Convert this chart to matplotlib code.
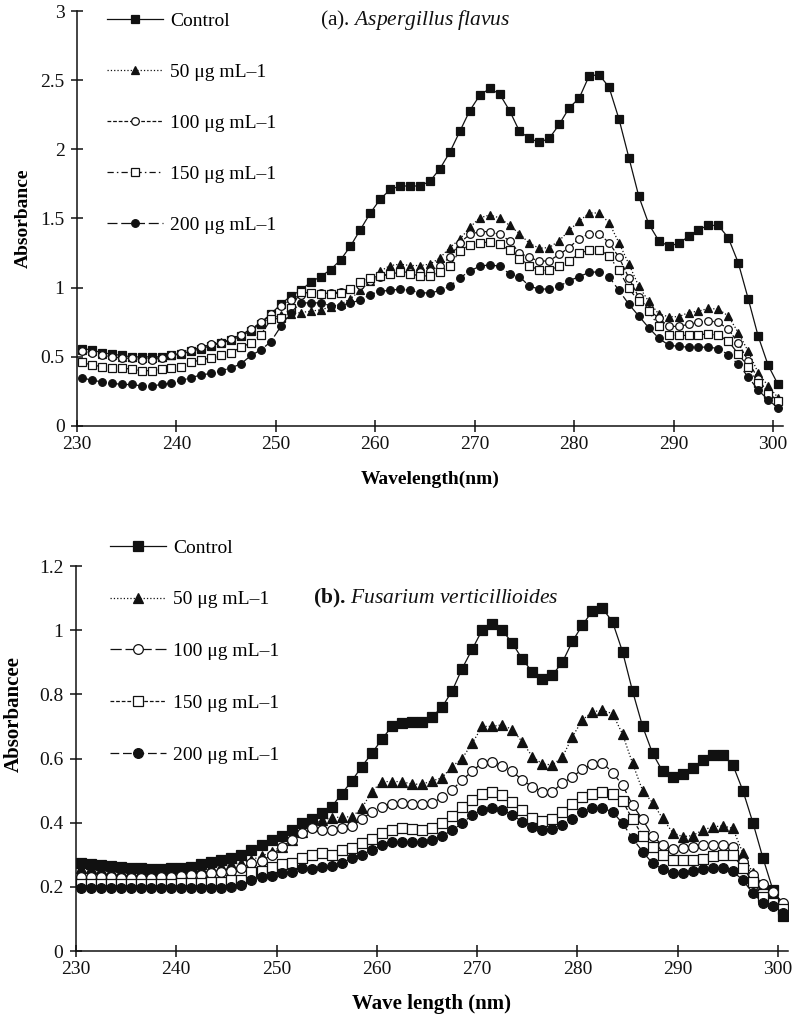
import matplotlib.pyplot as plt
import numpy as np
from matplotlib.ticker import FormatStrFormatter

plt.rcParams['font.family'] = ['Liberation Serif', 'DejaVu Serif']
plt.rcParams['mathtext.fontset'] = 'custom'
plt.rcParams['mathtext.rm'] = 'Liberation Serif'
plt.rcParams['mathtext.it'] = 'Liberation Serif:italic'
plt.rcParams['mathtext.bf'] = 'Liberation Serif:bold'

# wavelengths of the measured points (nm)
wavelength = np.arange(230.5, 301.0, 1.0)

labels = ['Control', '50 μg mL–1', '100 μg mL–1', '150 μg mL–1', '200 μg mL–1']

# (a) Aspergillus flavus
a_control = [0.56, 0.55, 0.53, 0.52, 0.51, 0.50, 0.50, 0.50, 0.50, 0.51,
             0.52, 0.54, 0.56, 0.58, 0.60, 0.62, 0.65, 0.69, 0.74, 0.81,
             0.88, 0.94, 0.98, 1.04, 1.08, 1.13, 1.20, 1.30, 1.42, 1.54,
             1.64, 1.71, 1.735, 1.735, 1.735, 1.77, 1.86, 1.98, 2.13, 2.28,
             2.39, 2.44, 2.40, 2.28, 2.13, 2.08, 2.05, 2.08, 2.18, 2.30,
             2.37, 2.53, 2.54, 2.45, 2.22, 1.94, 1.66, 1.46, 1.34, 1.30,
             1.32, 1.37, 1.42, 1.45, 1.45, 1.36, 1.18, 0.92, 0.65, 0.44,
             0.30]
a_50 = [0.55, 0.54, 0.52, 0.51, 0.50, 0.50, 0.49, 0.49, 0.50, 0.51,
        0.53, 0.55, 0.57, 0.59, 0.61, 0.63, 0.66, 0.70, 0.74, 0.78,
        0.80, 0.81, 0.82, 0.83, 0.84, 0.86, 0.88, 0.92, 0.98, 1.05,
        1.12, 1.16, 1.17, 1.16, 1.16, 1.17, 1.215, 1.29, 1.35, 1.435,
        1.505, 1.525, 1.505, 1.45, 1.39, 1.32, 1.285, 1.29, 1.34, 1.415,
        1.48, 1.54, 1.54, 1.47, 1.325, 1.17, 1.01, 0.90, 0.81, 0.79,
        0.79, 0.82, 0.83, 0.85, 0.845, 0.795, 0.675, 0.54, 0.385, 0.29,
        0.205]
a_100 = [0.54, 0.53, 0.51, 0.50, 0.49, 0.49, 0.48, 0.48, 0.49, 0.51,
         0.53, 0.55, 0.57, 0.59, 0.60, 0.63, 0.66, 0.70, 0.75, 0.81,
         0.87, 0.91, 0.95, 0.96, 0.96, 0.96, 0.97, 0.99, 1.02, 1.05,
         1.08, 1.10, 1.11, 1.115, 1.11, 1.12, 1.16, 1.22, 1.325, 1.385,
         1.405, 1.405, 1.385, 1.34, 1.25, 1.22, 1.19, 1.195, 1.24, 1.29,
         1.355, 1.39, 1.39, 1.325, 1.22, 1.07, 0.93, 0.84, 0.78, 0.72,
         0.72, 0.735, 0.75, 0.76, 0.75, 0.70, 0.60, 0.47, 0.34, 0.24,
         0.18]
a_150 = [0.46, 0.44, 0.43, 0.42, 0.42, 0.41, 0.40, 0.40, 0.41, 0.42,
         0.43, 0.46, 0.48, 0.49, 0.51, 0.53, 0.57, 0.60, 0.66, 0.77,
         0.78, 0.85, 0.97, 0.96, 0.955, 0.955, 0.96, 0.99, 1.04, 1.07,
         1.085, 1.10, 1.11, 1.10, 1.085, 1.085, 1.115, 1.16, 1.265, 1.31,
         1.325, 1.33, 1.315, 1.27, 1.21, 1.16, 1.125, 1.125, 1.16, 1.19,
         1.25, 1.27, 1.275, 1.23, 1.125, 0.995, 0.90, 0.83, 0.72, 0.66,
         0.655, 0.655, 0.66, 0.665, 0.655, 0.615, 0.52, 0.43, 0.31, 0.23,
         0.18]
a_200 = [0.35, 0.33, 0.32, 0.31, 0.30, 0.30, 0.29, 0.29, 0.30, 0.31,
         0.33, 0.35, 0.37, 0.38, 0.40, 0.42, 0.45, 0.51, 0.55, 0.61,
         0.72, 0.82, 0.89, 0.89, 0.89, 0.87, 0.87, 0.89, 0.91, 0.95,
         0.975, 0.98, 0.99, 0.98, 0.965, 0.96, 0.98, 1.01, 1.07, 1.12,
         1.155, 1.165, 1.155, 1.10, 1.08, 1.01, 0.99, 0.99, 1.01, 1.05,
         1.08, 1.11, 1.115, 1.08, 0.98, 0.88, 0.795, 0.71, 0.635, 0.585,
         0.575, 0.57, 0.57, 0.57, 0.56, 0.515, 0.445, 0.355, 0.26, 0.19,
         0.13]

# (b) Fusarium verticillioides
b_control = [0.275, 0.27, 0.268, 0.265, 0.262, 0.26, 0.258, 0.257, 0.257, 0.258,
             0.26, 0.263, 0.27, 0.276, 0.283, 0.29, 0.30, 0.315, 0.33, 0.345,
             0.36, 0.377, 0.40, 0.41, 0.43, 0.45, 0.49, 0.53, 0.575, 0.616,
             0.66, 0.70, 0.71, 0.715, 0.715, 0.73, 0.76, 0.81, 0.88, 0.94,
             1.00, 1.02, 1.00, 0.96, 0.91, 0.87, 0.847, 0.86, 0.90, 0.965,
             1.016, 1.06, 1.068, 1.026, 0.933, 0.81, 0.70, 0.616, 0.56, 0.543,
             0.553, 0.57, 0.595, 0.61, 0.61, 0.58, 0.50, 0.40, 0.29, 0.19,
             0.11]
b_50 = [0.26, 0.258, 0.255, 0.253, 0.25, 0.25, 0.248, 0.248, 0.248, 0.25,
        0.252, 0.255, 0.258, 0.262, 0.266, 0.27, 0.275, 0.285, 0.295, 0.31,
        0.325, 0.346, 0.372, 0.39, 0.408, 0.415, 0.418, 0.418, 0.445, 0.497,
        0.528, 0.528, 0.528, 0.52, 0.52, 0.53, 0.54, 0.575, 0.60, 0.647,
        0.70, 0.70, 0.705, 0.69, 0.652, 0.606, 0.583, 0.58, 0.604, 0.668,
        0.72, 0.746, 0.75, 0.74, 0.676, 0.585, 0.50, 0.462, 0.413, 0.369,
        0.356, 0.36, 0.377, 0.387, 0.39, 0.382, 0.305, 0.242, 0.21, 0.185,
        0.15]
b_100 = [0.232, 0.232, 0.23, 0.23, 0.228, 0.228, 0.228, 0.228, 0.23, 0.232,
         0.234, 0.236, 0.238, 0.242, 0.245, 0.25, 0.258, 0.275, 0.28, 0.30,
         0.323, 0.346, 0.367, 0.382, 0.378, 0.378, 0.383, 0.39, 0.41, 0.434,
         0.45, 0.458, 0.46, 0.458, 0.457, 0.46, 0.48, 0.502, 0.533, 0.56,
         0.587, 0.59, 0.578, 0.56, 0.533, 0.512, 0.497, 0.497, 0.523, 0.543,
         0.566, 0.583, 0.587, 0.556, 0.517, 0.455, 0.41, 0.358, 0.33, 0.317,
         0.32, 0.325, 0.33, 0.33, 0.33, 0.325, 0.278, 0.236, 0.21, 0.185,
         0.15]
b_150 = [0.21, 0.21, 0.21, 0.21, 0.21, 0.21, 0.21, 0.21, 0.21, 0.21,
         0.212, 0.212, 0.213, 0.214, 0.215, 0.22, 0.222, 0.247, 0.25, 0.263,
         0.27, 0.275, 0.289, 0.30, 0.306, 0.30, 0.315, 0.32, 0.336, 0.35,
         0.369, 0.377, 0.382, 0.38, 0.376, 0.382, 0.398, 0.42, 0.45, 0.47,
         0.49, 0.495, 0.485, 0.465, 0.44, 0.413, 0.405, 0.41, 0.434, 0.458,
         0.479, 0.49, 0.495, 0.49, 0.468, 0.41, 0.36, 0.325, 0.30, 0.284,
         0.283, 0.283, 0.287, 0.296, 0.30, 0.30, 0.258, 0.216, 0.167, 0.15,
         0.13]
b_200 = [0.195, 0.195, 0.195, 0.195, 0.195, 0.195, 0.195, 0.195, 0.195, 0.195,
         0.195, 0.195, 0.195, 0.195, 0.196, 0.20, 0.205, 0.22, 0.23, 0.235,
         0.242, 0.247, 0.258, 0.255, 0.263, 0.265, 0.275, 0.289, 0.30, 0.315,
         0.33, 0.34, 0.34, 0.34, 0.34, 0.345, 0.358, 0.377, 0.398, 0.424,
         0.44, 0.445, 0.44, 0.424, 0.403, 0.385, 0.377, 0.38, 0.393, 0.41,
         0.434, 0.445, 0.445, 0.434, 0.398, 0.351, 0.31, 0.273, 0.255, 0.244,
         0.244, 0.25, 0.255, 0.258, 0.258, 0.248, 0.221, 0.18, 0.15, 0.14,
         0.12]

INK = '#111111'
FS = 14

# (marker, filled, linestyle) per series
styles_a = [('s', True, '-'), ('^', True, ':'), ('o', False, (0, (3, 1.5))),
            ('s', False, (0, (5, 2.5, 1.2, 2.5))), ('o', True, (0, (8, 3)))]
styles_b = [('s', True, '-'), ('^', True, ':'), ('o', False, (0, (9, 3))),
            ('s', False, (0, (3, 1.5))), ('o', True, (0, (7, 3)))]


def draw_panel(ax, series, styles, ms, ylim, yticks, xlabel, ylabel, lab_fs, xpad):
    for y, lab, (mk, filled, ls) in zip(series, labels, styles):
        ax.plot(wavelength, y, linestyle=ls, color=INK, lw=0.9,
                marker=mk, ms=ms, mec=INK, mew=0.9,
                mfc=INK if filled else 'white', label=lab)
    ax.set_xlim(230, 301)
    ax.set_ylim(*ylim)
    ax.set_xticks(range(230, 301, 10))
    ax.set_yticks(yticks)
    ax.yaxis.set_major_formatter(FormatStrFormatter('%g'))
    for s in ['top', 'right']:
        ax.spines[s].set_visible(False)
    for s in ['left', 'bottom']:
        ax.spines[s].set_linewidth(1.1)
        ax.spines[s].set_color(INK)
    ax.tick_params(direction='inout', length=8, width=1.1, labelsize=FS,
                   colors=INK, pad=3)
    ax.tick_params(axis='y', pad=5)
    ax.set_xlabel(xlabel, fontsize=lab_fs, fontweight='bold', labelpad=xpad)
    ax.set_ylabel(ylabel, fontsize=lab_fs, fontweight='bold', labelpad=6)


fig = plt.figure(figsize=(8, 10.21), dpi=100)
W, H = 800, 1021

ax1 = fig.add_axes([77 / W, 1 - 426 / H, (783 - 77) / W, (426 - 11) / H])
draw_panel(ax1, [a_control, a_50, a_100, a_150, a_200], styles_a, 5.5,
           (0, 3), np.arange(0, 3.01, 0.5), 'Wavelength(nm)', 'Absorbance', 14, 13)
ax1.legend(loc='upper left', bbox_to_anchor=(107 / W, 1 - 12 / H),
           bbox_transform=fig.transFigure, frameon=False, fontsize=FS,
           handlelength=2.9, handletextpad=0.36, labelspacing=1.72,
           borderpad=0, borderaxespad=0, numpoints=1)
fig.text(320 / W, 1 - 20 / H, r'(a). $\mathit{Aspergillus\ flavus}$',
         fontsize=15.5, va='center', ha='left', color=INK)

ax2 = fig.add_axes([76 / W, 1 - 951 / H, (788 - 76) / W, (951 - 566) / H])
draw_panel(ax2, [b_control, b_50, b_100, b_150, b_200], styles_b, 7,
           (0, 1.2), np.arange(0, 1.21, 0.2), 'Wave length (nm)', 'Absorbancee', 15, 12)
ax2.yaxis.set_label_coords(-0.073, 0.615)
ax2.legend(loc='upper left', bbox_to_anchor=(110 / W, 1 - 539 / H),
           bbox_transform=fig.transFigure, frameon=False, fontsize=FS,
           handlelength=2.9, handletextpad=0.36, labelspacing=1.76,
           borderpad=0, borderaxespad=0, numpoints=1)
fig.text(313 / W, 1 - 598 / H, r'$\mathbf{(b).}$$\,$$\mathit{Fusarium\ verticillioides}$',
         fontsize=15.5, va='center', ha='left', color=INK)

fig.savefig('out.png', dpi=100, facecolor='white')
